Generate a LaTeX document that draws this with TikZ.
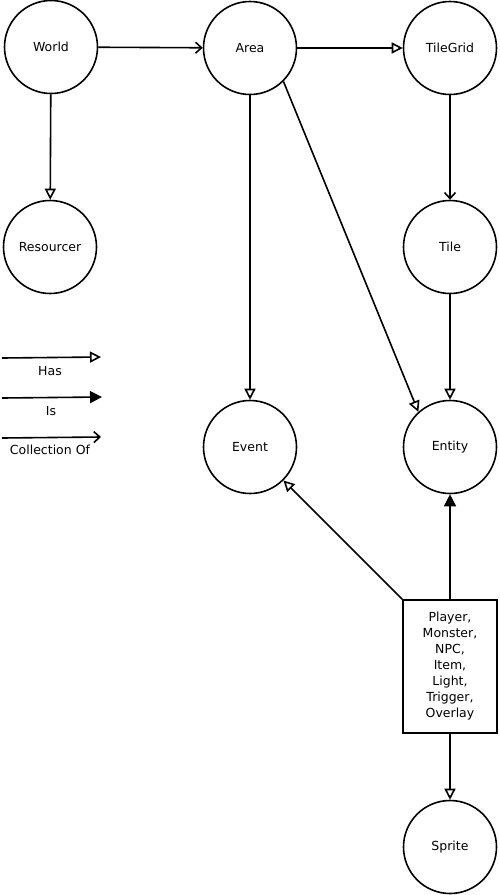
\documentclass[tikz,border=0pt]{standalone}
\usepackage{fontspec}
\setmainfont{DejaVu Sans}
\usetikzlibrary{arrows.meta}
\begin{document}
\begin{tikzpicture}[x=1pt,y=-1pt,line width=1.6pt,
  lbl/.style={font=\fontsize{12.5}{16}\selectfont, inner sep=0pt},
  ent/.style={circle, draw, minimum size=93pt, inner sep=0pt, lbl},
  boxnode/.style={draw, minimum width=94pt, minimum height=133pt, inner sep=0pt, align=center, lbl},
  has/.style={-{Triangle[open,length=11pt,width=11pt]}},
  isa/.style={-{Triangle[length=12pt,width=12pt]}},
  coll/.style={-{Straight Barb[length=6pt,width=11pt]}}]
\useasboundingbox (0,0) rectangle (499,895);
\node[ent] (World) at (51,47) {World};
\node[ent] (Area) at (250,48) {Area};
\node[ent] (TileGrid) at (450,48) {TileGrid};
\node[ent] (Resourcer) at (50,247) {Resourcer};
\node[ent] (Tile) at (450,247) {Tile};
\node[ent] (Event) at (250,447) {Event};
\node[ent] (Entity) at (450,447) {Entity};
\node[ent] (Sprite) at (450,847) {Sprite};
\node[boxnode] (Box) at (450,666.5) {Player,\\Monster,\\NPC,\\Item,\\Light,\\Trigger,\\Overlay};
\draw[coll] (World) -- (Area);
\draw[has] (Area) -- (TileGrid);
\draw[has] (World) -- (Resourcer);
\draw[coll] (TileGrid) -- (Tile);
\draw[has] (Area) -- (Event);
\draw[has] (Area.-45) -- (Entity.132);
\draw[has] (Tile) -- (Entity);
\draw[isa] (Box.north) -- (Entity);
\draw[has] (Box.north west) -- (Event.-45);
\draw[has] (Box.south) -- (Sprite);
% legend
\coordinate (h1) at (2,358); \coordinate (h2) at (101,357);
\coordinate (i1) at (2,398); \coordinate (i2) at (102,397);
\coordinate (c1) at (2,438); \coordinate (c2) at (101,437);
\draw[has] (h1) -- (h2);
\draw[isa] (i1) -- (i2);
\draw[coll] (c1) -- (c2);
\node[lbl] (lh) at (50,371) {Has};
\node[lbl] (li) at (51,411) {Is};
\node[lbl] (lc) at (50,450) {Collection Of};
\end{tikzpicture}
\end{document}
